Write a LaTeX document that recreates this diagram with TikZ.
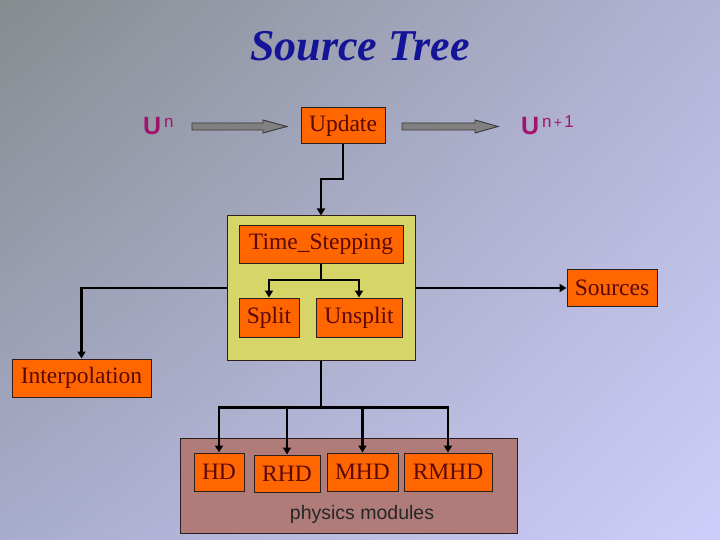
\documentclass[tikz,border=0pt]{standalone}
\usepackage{fontspec}
\setmainfont{Liberation Serif}
\setsansfont{Liberation Sans}
\usetikzlibrary{arrows.meta,shadings}
\definecolor{bgUL}{RGB}{134,140,142}
\definecolor{bgUR}{RGB}{178,180,214}
\definecolor{bgLL}{RGB}{168,172,204}
\definecolor{bgLR}{RGB}{206,206,250}
\definecolor{boxorange}{RGB}{255,102,0}
\definecolor{boxtext}{RGB}{90,8,8}
\definecolor{boxedge}{RGB}{45,30,30}
\definecolor{yelfill}{RGB}{214,214,104}
\definecolor{brownfill}{RGB}{176,124,121}
\definecolor{titleblue}{RGB}{20,20,150}
\definecolor{umag}{RGB}{160,20,110}
\definecolor{arrgray}{RGB}{128,128,128}
\definecolor{arredge}{RGB}{55,55,55}
\tikzset{
  obox/.style={draw=boxedge, line width=1pt, fill=boxorange, text=boxtext,
    inner sep=0pt, font=\fontsize{23.5}{23.5}\selectfont},
  conn/.style={draw=black, line width=2.2pt, -{Triangle[length=7pt,width=8pt]}},
  plain/.style={draw=black, line width=2.2pt},
  blockarrow/.style={fill=arrgray, draw=arredge, line width=0.9pt},
  ulabel/.style={text=umag, inner sep=0pt, anchor=base west, font=\sffamily}
}
\begin{document}
\begin{tikzpicture}[x=1pt,y=-1pt]
\useasboundingbox (0,0) rectangle (720,540);
\shade[upper left=bgUL, upper right=bgUR, lower left=bgLL, lower right=bgLR] (0,0) rectangle (720,540);

% title
\node[anchor=base, inner sep=0pt, text=titleblue, font=\fontsize{44}{44}\selectfont\bfseries\itshape] (title) at (360,61) {Source Tree};

% U^n and U^{n+1}
\node[ulabel] (un) at (143,135) {{\fontsize{25}{25}\selectfont\bfseries U}\raisebox{7pt}{\fontsize{17}{17}\selectfont\,n}};
\node[ulabel] (unp) at (521,135) {{\fontsize{25}{25}\selectfont\bfseries U}\raisebox{7pt}{\fontsize{17}{17}\selectfont\,n{\fontsize{14}{14}\selectfont\,+\,}1}};

% block arrows
\draw[blockarrow] (192,123) -- (263,123) -- (263,120) -- (287,126.5) -- (263,133) -- (263,130) -- (192,130) -- cycle;
\draw[blockarrow] (402,123) -- (475,123) -- (475,120) -- (498,126.5) -- (475,133) -- (475,130) -- (402,130) -- cycle;

% Update
\node[obox, minimum width=84pt, minimum height=36pt] (update) at (343,126) {Update};

% yellow container
\node[draw=boxedge, line width=1pt, fill=yelfill, minimum width=188pt, minimum height=144pt, inner sep=0pt] (yel) at (321,288) {};
\node[obox, minimum width=164pt, minimum height=37pt] (ts) at (321,244.5) {Time\_Stepping};
\node[obox, minimum width=60pt, minimum height=39pt] (split) at (269,317.5) {Split};
\node[obox, minimum width=86pt, minimum height=39pt] (unsplit) at (359,317.5) {Unsplit};

% side boxes
\node[obox, minimum width=90pt, minimum height=37pt] (sources) at (612,288) {Sources};
\node[obox, minimum width=139pt, minimum height=38pt] (interp) at (81.5,378) {Interpolation};

% physics modules
\node[draw=boxedge, line width=1pt, fill=brownfill, minimum width=337pt, minimum height=95pt, inner sep=0pt] (phys) at (348.5,485.5) {};
\node[obox, minimum width=50pt, minimum height=38pt] (hd) at (219,472) {HD};
\node[obox, minimum width=66pt, minimum height=37pt] (rhd) at (287,473.5) {RHD};
\node[obox, minimum width=71pt, minimum height=38pt] (mhd) at (362.5,472) {MHD};
\node[obox, minimum width=88pt, minimum height=38pt] (rmhd) at (448,472) {RMHD};
\node[inner sep=0pt, text=black!85, font=\sffamily\fontsize{19.5}{19.5}\selectfont] (physlabel) at (362,514) {physics modules};

% connectors
\coordinate (jog) at (343,179);
\draw[conn] (update.south) -- (jog) -| (yel.north);

\coordinate (tsbus) at (321,280);
\draw[draw=black, line width=1.1pt] (ts.south) -- (tsbus);
\draw[conn] (tsbus) -| (split.north);
\draw[conn] (tsbus) -| (unsplit.north);

\draw[conn] (yel.west) -| (interp.north);
\draw[conn] (yel.east) -- (sources.west);

\coordinate (bus) at (321,407.5);
\draw[plain] (yel.south) -- (bus);
\draw[conn] (bus) -| (hd.north);
\draw[conn] (bus) -| (rhd.north);
\draw[conn] (bus) -| (mhd.north);
\draw[conn] (bus) -| (rmhd.north);
\end{tikzpicture}
\end{document}
